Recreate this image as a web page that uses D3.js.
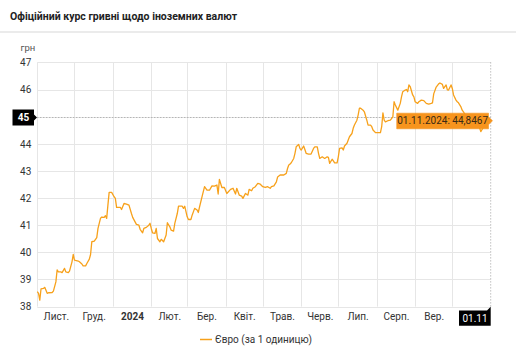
<!DOCTYPE html>
<html>
<head>
<meta charset="utf-8">
<script src="https://cdn.jsdelivr.net/npm/d3@7"></script>
<style>
  html, body { margin: 0; padding: 0; background: #fff; }
  svg { display: block; font-family: Roboto, "Noto Sans", sans-serif; }
</style>
</head>
<body>
<svg id="chart" width="516" height="350"></svg>
<script>
const title = "Офіційний курс гривні щодо іноземних валют";
const unitLabel = "грн";
const seriesName = "Євро (за 1 одиницю)";
const monthLabels = ["Лист.","Груд.","2024","Лют.","Бер.","Квіт.","Трав.","Черв.","Лип.","Серп.","Вер.","Жовт."];
const yTicks = [38,39,40,41,42,43,44,45,46,47];
const startDate = "2023-11-01";
const endDate = "2024-11-01";
const crosshairLabel = "45";
const crosshairValue = 45;
const endLabel = "01.11";
const tooltipText = "01.11.2024: 44,8467";

const dates = [
"2023-11-01","2023-11-02","2023-11-03","2023-11-04","2023-11-06","2023-11-07","2023-11-09","2023-11-10","2023-11-13","2023-11-14",
"2023-11-16","2023-11-17","2023-11-18","2023-11-20","2023-11-21","2023-11-23","2023-11-24","2023-11-26","2023-11-27","2023-11-29",
"2023-11-30","2023-12-01","2023-12-04","2023-12-05","2023-12-07","2023-12-08","2023-12-10","2023-12-11","2023-12-13","2023-12-14",
"2023-12-15","2023-12-17","2023-12-19","2023-12-20","2023-12-22","2023-12-23","2023-12-25","2023-12-26","2023-12-27","2023-12-28",
"2023-12-29","2023-12-31","2024-01-02","2024-01-03","2024-01-04","2024-01-07","2024-01-08","2024-01-10","2024-01-12","2024-01-14",
"2024-01-16","2024-01-17","2024-01-20","2024-01-22","2024-01-23","2024-01-25","2024-01-26","2024-01-28","2024-01-30","2024-01-31",
"2024-02-01","2024-02-02","2024-02-04","2024-02-05","2024-02-06","2024-02-08","2024-02-09","2024-02-11","2024-02-13","2024-02-14",
"2024-02-16","2024-02-17","2024-02-19","2024-02-20","2024-02-22","2024-02-23","2024-02-26","2024-02-27","2024-02-28","2024-03-01",
"2024-03-02","2024-03-04","2024-03-05","2024-03-07","2024-03-09","2024-03-10","2024-03-11","2024-03-13","2024-03-15","2024-03-17",
"2024-03-19","2024-03-21","2024-03-23","2024-03-25","2024-03-26","2024-03-27","2024-03-29","2024-03-31","2024-04-02","2024-04-05",
"2024-04-07","2024-04-09","2024-04-10","2024-04-12","2024-04-14","2024-04-15","2024-04-17","2024-04-19","2024-04-20","2024-04-22",
"2024-04-23","2024-04-25","2024-04-27","2024-04-29","2024-05-01","2024-05-03","2024-05-05","2024-05-07","2024-05-08","2024-05-10",
"2024-05-12","2024-05-13","2024-05-15","2024-05-18","2024-05-20","2024-05-21","2024-05-22","2024-05-23","2024-05-24","2024-05-26",
"2024-05-27","2024-05-28","2024-05-30","2024-05-31","2024-06-01","2024-06-03","2024-06-04","2024-06-05","2024-06-07","2024-06-09",
"2024-06-11","2024-06-12","2024-06-14","2024-06-15","2024-06-16","2024-06-18","2024-06-20","2024-06-22","2024-06-23","2024-06-24",
"2024-06-26","2024-06-27","2024-06-28","2024-06-30","2024-07-01","2024-07-02","2024-07-04","2024-07-05","2024-07-06","2024-07-08",
"2024-07-09","2024-07-10","2024-07-12","2024-07-13","2024-07-14","2024-07-16","2024-07-17","2024-07-18","2024-07-19","2024-07-21",
"2024-07-22","2024-07-24","2024-07-25","2024-07-27","2024-07-28","2024-07-29","2024-07-31","2024-08-02","2024-08-04","2024-08-05",
"2024-08-06","2024-08-07","2024-08-08","2024-08-10","2024-08-12","2024-08-14","2024-08-15","2024-08-16","2024-08-18","2024-08-20",
"2024-08-21","2024-08-22","2024-08-24","2024-08-25","2024-08-26","2024-08-27","2024-08-28","2024-08-30","2024-08-31","2024-09-01",
"2024-09-03","2024-09-04","2024-09-06","2024-09-08","2024-09-10","2024-09-12","2024-09-14","2024-09-15","2024-09-16","2024-09-18",
"2024-09-20","2024-09-21","2024-09-23","2024-09-24","2024-09-26","2024-09-27","2024-09-28","2024-09-30","2024-10-01","2024-10-02",
"2024-10-04","2024-10-05","2024-10-06","2024-10-08","2024-10-09","2024-10-10","2024-10-11","2024-10-14","2024-10-16","2024-10-18",
"2024-10-21","2024-10-23","2024-10-24","2024-10-26","2024-10-28","2024-10-30","2024-11-01"
];
const values = [
38.55,38.49,38.24,38.65,38.67,38.71,38.49,38.51,38.52,38.57,
38.91,39.35,39.28,39.28,39.25,39.41,39.28,39.25,39.31,39.65,
39.92,39.71,39.68,39.65,39.57,39.50,39.50,39.59,39.75,39.92,
40.39,40.41,40.54,40.88,41.25,41.30,41.29,41.35,41.25,41.74,
42.21,42.21,42.05,41.99,41.66,41.66,41.58,41.80,41.78,41.74,
41.43,41.29,41.03,41.00,40.85,40.72,40.88,40.92,41.00,41.07,
40.88,40.72,40.70,40.88,40.51,40.39,40.48,40.39,40.64,41.09,
40.94,40.82,40.78,41.07,41.43,41.70,41.70,41.62,41.70,41.31,
41.21,41.21,41.37,41.62,41.56,41.47,41.68,42.05,42.42,42.29,
42.29,42.45,42.44,42.48,42.15,42.69,42.39,42.39,42.17,42.32,
42.36,42.15,42.36,42.11,42.07,41.99,42.17,42.11,42.32,42.27,
42.36,42.42,42.54,42.51,42.42,42.39,42.42,42.36,42.42,42.45,
42.60,42.78,42.85,42.85,42.91,43.09,43.22,43.25,43.30,43.46,
43.65,43.89,43.98,43.83,43.77,43.92,43.79,43.65,43.62,43.62,
43.83,43.89,43.89,43.65,43.46,43.52,43.46,43.52,43.50,43.28,
43.43,43.37,43.30,43.30,43.52,43.83,43.85,43.77,43.92,44.02,
44.14,44.26,44.38,44.57,44.69,44.87,45.06,45.31,45.31,45.24,
45.18,44.87,44.69,44.69,44.63,44.51,44.41,44.41,44.41,44.63,
45.14,44.87,44.81,44.85,44.87,44.99,45.55,45.43,45.24,45.49,
45.73,45.92,45.98,46.00,45.92,46.17,46.11,45.80,45.73,45.55,
45.49,45.55,45.61,45.59,45.49,45.46,45.49,45.51,45.84,46.09,
46.21,46.24,46.19,46.04,46.17,45.99,45.98,46.17,46.04,45.80,
45.61,45.55,45.51,45.36,45.24,45.18,45.10,44.95,44.90,44.80,
44.70,44.60,44.45,44.60,44.72,44.80,44.8467
];

const parse = d3.timeParse("%Y-%m-%d");
const data = dates.map((d, i) => ({ date: parse(d), value: values[i] }));

const svg = d3.select("#chart");
const W = 516, H = 350;
const m = { left: 37.3, right: 490.7, top: 62.4, bottom: 306.6 };

const x = d3.scaleTime().domain([parse(startDate), parse(endDate)]).range([m.left, m.right]);
const y = d3.scaleLinear().domain([38, 47]).range([m.bottom, m.top]);

// Title
svg.append("text").attr("x", 10).attr("y", 19.5)
  .attr("font-size", 10.5).attr("font-weight", "bold").attr("fill", "#222")
  .text(title);
svg.append("rect").attr("x", 0).attr("y", 31).attr("width", W).attr("height", 2).attr("fill", "#ebebeb");

// Grid: horizontal
const grid = svg.append("g");
grid.selectAll("line.h").data(yTicks).join("line")
  .attr("x1", m.left).attr("x2", m.right)
  .attr("y1", d => Math.round(y(d)) + 0.5).attr("y2", d => Math.round(y(d)) + 0.5)
  .attr("stroke", "#e6e6e6").attr("stroke-width", 1);
// Grid: vertical (month starts)
const monthStarts = d3.timeMonth.range(parse(startDate), parse(endDate));
grid.selectAll("line.v").data(monthStarts).join("line")
  .attr("x1", d => Math.round(x(d)) + 0.5).attr("x2", d => Math.round(x(d)) + 0.5)
  .attr("y1", m.top).attr("y2", m.bottom)
  .attr("stroke", "#e6e6e6").attr("stroke-width", 1);

// Y axis labels (the crosshair value is shown in its own black box instead)
const yAxis = d3.axisLeft(y).tickValues(yTicks.filter(v => v !== crosshairValue))
  .tickSize(0).tickPadding(6).tickFormat(d3.format("d"));
const yg = svg.append("g").attr("transform", `translate(${m.left},0)`).call(yAxis);
yg.select(".domain").remove();
yg.selectAll("text").attr("font-size", 10).attr("fill", "#333").attr("font-family", "Roboto, sans-serif");

svg.append("text").attr("x", 20.5).attr("y", 51).attr("font-size", 9.5).attr("fill", "#555").text(unitLabel);

// X axis labels, centred within each month (the last month is covered by the end-date box)
const labelDates = monthStarts.map(d => new Date((+d + +d3.timeMonth.offset(d, 1)) / 2));
const xAxis = d3.axisBottom(x).tickValues(labelDates.slice(0, -1))
  .tickSize(0).tickPadding(6).tickFormat((d, i) => monthLabels[i]);
const xg = svg.append("g").attr("transform", `translate(0,${m.bottom})`).call(xAxis);
xg.select(".domain").remove();
xg.selectAll("text").attr("font-size", 10).attr("fill", "#333").attr("font-family", "Roboto, sans-serif")
  .attr("font-weight", (d, i) => monthLabels[i] === "2024" ? "bold" : "normal");

// Crosshairs
const yc = Math.round(y(crosshairValue)) + 0.5;
svg.append("line").attr("x1", m.left).attr("x2", m.right).attr("y1", yc).attr("y2", yc)
  .attr("stroke", "#a0a0a0").attr("stroke-dasharray", "1,2");
svg.append("line").attr("x1", m.right).attr("x2", m.right).attr("y1", m.top).attr("y2", m.bottom)
  .attr("stroke", "#a0a0a0").attr("stroke-dasharray", "1,2");

// Line
const line = d3.line().x(d => x(d.date)).y(d => y(d.value));
svg.append("path").datum(data).attr("d", line)
  .attr("fill", "none").attr("stroke", "#f7a11b").attr("stroke-width", 1.3)
  .attr("stroke-linejoin", "round");

// Y crosshair label box
const yl = svg.append("g");
yl.append("path").attr("d", `M12.5,${yc-8} L34,${yc-8} L34,${yc-3} L37,${yc} L34,${yc+3} L34,${yc+8} L12.5,${yc+8} Z`).attr("fill", "#000");
yl.append("text").attr("x", 23.5).attr("y", yc + 3.5).attr("text-anchor", "middle")
  .attr("font-size", 10).attr("font-weight", "bold").attr("fill", "#fff").text(crosshairLabel);

// X crosshair label box
const xb = svg.append("g");
xb.append("path").attr("d", `M459,310.5 L487,310.5 L490.7,306.8 L490.7,325.7 L459,325.7 Z`).attr("fill", "#000");
xb.append("text").attr("x", 475).attr("y", 321.5).attr("text-anchor", "middle")
  .attr("font-size", 10).attr("fill", "#fff").text(endLabel);

// Tooltip
const last = data[data.length - 1];
const ty = y(last.value);
const tt = svg.append("g");
tt.append("path").attr("d", `M396.7,${ty-7.7} L488.5,${ty-7.7} L488.5,${ty-4} L492.5,${ty} L488.5,${ty+4} L488.5,${ty+8} L396.7,${ty+8} Z`)
  .attr("fill", "#f7941d").attr("stroke", "#f08c10").attr("stroke-width", 0.5);
tt.append("text").attr("x", 442.6).attr("y", ty + 3.6).attr("text-anchor", "middle")
  .attr("font-size", 10).attr("fill", "#3a2a14").text(tooltipText);

// Legend
const lg = svg.append("g");
lg.append("line").attr("x1", 200).attr("x2", 212).attr("y1", 339.5).attr("y2", 339.5)
  .attr("stroke", "#f7a11b").attr("stroke-width", 1.5);
lg.append("text").attr("x", 215).attr("y", 343).attr("font-size", 10).attr("fill", "#333").text(seriesName);
</script>
</body>
</html>
